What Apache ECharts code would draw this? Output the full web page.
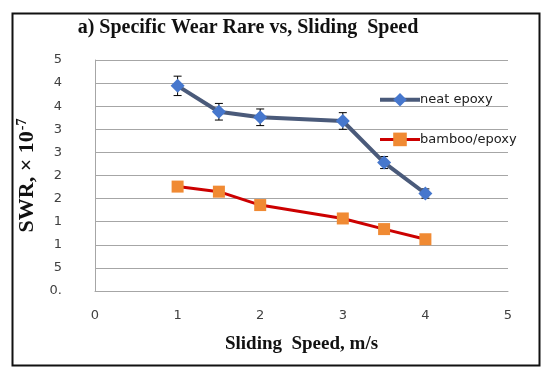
<!DOCTYPE html>
<html>
<head>
<meta charset="utf-8">
<script src="https://cdn.jsdelivr.net/npm/echarts@6/dist/echarts.min.js"></script>
<style>html,body{margin:0;padding:0;background:#fff}#c{width:550px;height:375px}</style>
</head>
<body>
<div id="c"></div>
<script>
// ---- data ----
var speeds = [1, 1.5, 2, 3, 3.5, 4];
var neatEpoxy = [4.44, 3.88, 3.76, 3.68, 2.78, 2.11];
var neatErr = [0.21, 0.18, 0.18, 0.18, 0.13, 0.10];
var bambooEpoxy = [2.26, 2.15, 1.86, 1.57, 1.34, 1.12];
var bambooErr = [0.05, 0.05, 0.03, 0.03, 0.03, 0.03];
var yTickLabels = ['0.', '5', '1', '1', '2', '2', '3', '3', '4', '4', '5'];
var xTickLabels = ['0', '1', '2', '3', '4', '5'];

var chart = echarts.init(document.getElementById('c'), null, {renderer: 'canvas'});

function pairs(xs, ys) { return xs.map(function (x, i) { return [x, ys[i]]; }); }
function errData(xs, ys, es) { return xs.map(function (x, i) { return [x, ys[i] - es[i], ys[i] + es[i]]; }); }

function errRender(params, api) {
  var x = api.value(0);
  var lo = api.coord([x, api.value(1)]);
  var hi = api.coord([x, api.value(2)]);
  var w = 4;
  var st = {stroke: '#000', lineWidth: 1};
  return {
    type: 'group',
    children: [
      {type: 'line', shape: {x1: lo[0], y1: lo[1], x2: hi[0], y2: hi[1]}, style: st},
      {type: 'line', shape: {x1: lo[0] - w, y1: lo[1], x2: lo[0] + w, y2: lo[1]}, style: st},
      {type: 'line', shape: {x1: hi[0] - w, y1: hi[1], x2: hi[0] + w, y2: hi[1]}, style: st}
    ]
  };
}

var tickFont = {fontFamily: 'DejaVu Sans', fontSize: 13, color: '#404040'};

chart.setOption({
  animation: false,
  backgroundColor: '#fff',
  grid: {left: 95, right: 42, top: 60, bottom: 84, containLabel: false},
  legend: {
    orient: 'vertical',
    left: 373,
    top: 88,
    itemGap: 26,
    itemWidth: 40,
    itemHeight: 17,
    textStyle: {fontFamily: 'DejaVu Sans', fontSize: 13, color: '#202020', padding: [0, 0, 0, -5]},
    data: [
      {name: 'neat epoxy', lineStyle: {color: '#4a5a7a', width: 4}, itemStyle: {color: '#4677cd'}},
      {name: 'bamboo/epoxy', lineStyle: {color: '#cc0000', width: 3}, itemStyle: {color: '#f08a33'}}
    ]
  },
  xAxis: {
    type: 'value', min: 0, max: 5, interval: 1,
    name: 'Sliding  Speed, m/s', nameLocation: 'middle', nameGap: 44,
    nameTextStyle: {fontFamily: 'Liberation Serif', fontWeight: 'bold', fontSize: 19, color: '#111'},
    axisLine: {show: true, lineStyle: {color: '#a6a6a6', width: 1}},
    axisTick: {show: false},
    splitLine: {show: false},
    axisLabel: Object.assign({margin: 18, formatter: function (v) { return xTickLabels[Math.round(v)]; }}, tickFont)
  },
  yAxis: {
    type: 'value', min: 0, max: 5, interval: 0.5,
    name: '{m|SWR, × 10}{s|-7}', nameLocation: 'middle', nameGap: 56, nameRotate: 90,
    nameTextStyle: {
      rich: {
        m: {fontFamily: 'Liberation Serif', fontWeight: 'bold', fontSize: 22, color: '#111'},
        s: {fontFamily: 'Liberation Serif', fontWeight: 'bold', fontSize: 14, color: '#111', verticalAlign: 'top', padding: [0, 0, 10, 1]}
      }
    },
    axisLine: {show: true, lineStyle: {color: '#a6a6a6', width: 1}},
    axisTick: {show: false},
    splitLine: {show: true, lineStyle: {color: '#a6a6a6', width: 1.2}},
    axisLabel: Object.assign({margin: 33, formatter: function (v) { return yTickLabels[Math.round(v * 2)]; }}, tickFont)
  },
  series: [
    {
      type: 'custom', name: 'neatErr', renderItem: errRender,
      data: errData(speeds, neatEpoxy, neatErr), z: 1, silent: true
    },
    {
      type: 'custom', name: 'bambooErr', renderItem: errRender,
      data: errData(speeds, bambooEpoxy, bambooErr), z: 1, silent: true
    },
    {
      type: 'line', name: 'neat epoxy', data: pairs(speeds, neatEpoxy), z: 3,
      symbol: 'diamond', symbolSize: 14,
      lineStyle: {color: '#4a5a7a', width: 4},
      itemStyle: {color: '#4677cd', borderWidth: 0}
    },
    {
      type: 'line', name: 'bamboo/epoxy', data: pairs(speeds, bambooEpoxy), z: 3,
      symbol: 'rect', symbolSize: 12,
      lineStyle: {color: '#cc0000', width: 3},
      itemStyle: {color: '#f08a33', borderWidth: 0}
    }
  ],
  graphic: [
    {
      type: 'rect', left: 10, top: 11, silent: true,
      shape: {width: 527, height: 352},
      style: {fill: 'none', stroke: '#111', lineWidth: 2}
    },
    {
      type: 'text', x: 248, y: 28, silent: true,
      style: {
        text: 'a) Specific Wear Rare vs, Sliding  Speed',
        font: 'bold 20px "Liberation Serif"', fill: '#111',
        textAlign: 'center', textVerticalAlign: 'middle'
      }
    }
  ]
});
</script>
</body>
</html>
